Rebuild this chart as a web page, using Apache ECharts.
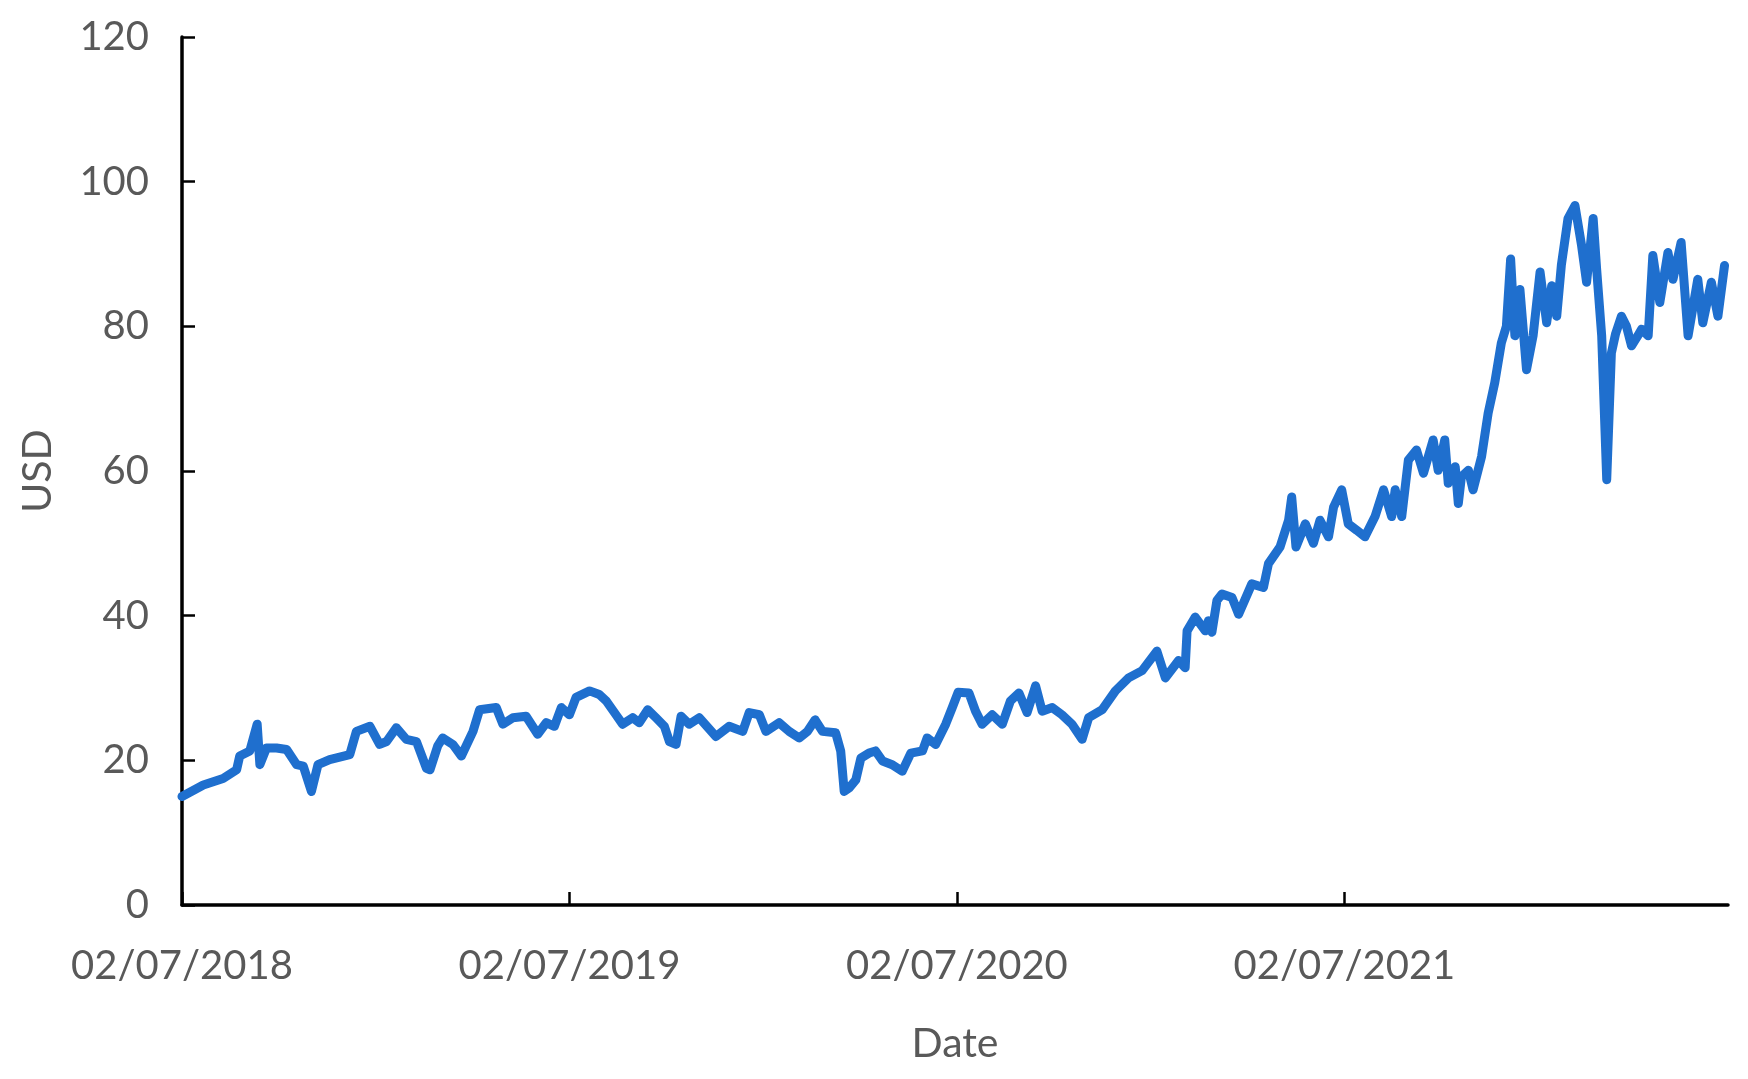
<!DOCTYPE html>
<html><head><meta charset="utf-8">
<script src="https://cdn.jsdelivr.net/npm/echarts@6/dist/echarts.min.js"></script>
<style>html,body{margin:0;padding:0;background:#fff}#c{width:1748px;height:1079px}</style>
</head><body><div id="c"></div>
<script>
// x: years elapsed since 02/07/2018 ; y: price in USD
const yearsSinceStart = [
 0.000,0.055,0.106,0.141,0.149,0.175,0.194,0.201,0.218,0.244,0.270,0.296,0.313,0.334,0.351,0.381,0.433,0.450,0.485,0.510,
 0.528,0.553,0.579,0.605,0.631,0.640,0.660,0.673,0.699,0.721,0.751,0.768,0.811,0.828,0.854,0.888,0.918,0.940,0.961,0.979,
 1.000,1.017,1.052,1.077,1.095,1.120,1.137,1.163,1.180,1.202,1.223,1.245,1.258,1.275,1.288,1.309,1.335,1.378,1.412,1.447,
 1.464,1.490,1.507,1.541,1.567,1.593,1.614,1.634,1.653,1.687,1.700,1.709,1.722,1.739,1.752,1.773,1.790,1.808,1.833,1.859,
 1.881,1.911,1.923,1.945,1.971,1.988,2.003,2.031,2.048,2.065,2.091,2.117,2.138,2.160,2.181,2.203,2.220,2.246,2.271,2.297,
 2.323,2.340,2.375,2.409,2.443,2.478,2.516,2.538,2.572,2.589,2.594,2.615,2.641,2.649,2.658,2.671,2.684,2.710,2.727,2.761,
 2.791,2.804,2.834,2.856,2.864,2.875,2.899,2.920,2.937,2.959,2.972,2.993,3.010,3.032,3.053,3.079,3.101,3.122,3.131,3.148,
 3.165,3.186,3.204,3.229,3.242,3.259,3.268,3.286,3.294,3.302,3.320,3.332,3.354,3.371,3.388,3.405,3.418,3.429,3.440,3.453,
 3.470,3.487,3.505,3.522,3.535,3.548,3.560,3.577,3.595,3.612,3.625,3.642,3.651,3.664,3.677,3.689,3.700,3.715,3.728,3.741,
 3.755,3.767,3.784,3.796,3.814,3.835,3.848,3.869,3.887,3.912,3.925,3.947,3.964,3.981
];
const priceUSD = [
 15.0,16.6,17.5,18.7,20.6,21.3,25.0,19.4,21.7,21.7,21.5,19.4,19.2,15.7,19.4,20.1,20.8,24.0,24.7,22.2,
 22.6,24.5,22.9,22.6,18.9,18.7,22.0,23.1,22.2,20.6,24.0,27.0,27.3,25.0,25.9,26.1,23.6,25.2,24.7,27.3,
 26.3,28.7,29.6,29.1,28.2,26.3,25.0,25.9,25.2,27.0,25.9,24.7,22.6,22.2,26.1,25.0,25.9,23.3,24.7,24.0,
 26.6,26.3,24.0,25.2,24.0,23.1,24.0,25.6,24.0,23.8,21.3,15.7,16.2,17.3,20.3,21.0,21.3,19.9,19.4,18.5,
 21.0,21.3,23.1,22.2,25.0,27.3,29.4,29.3,26.8,25.0,26.3,25.0,28.2,29.3,26.6,30.3,26.8,27.3,26.3,25.0,
 22.9,25.9,27.0,29.6,31.4,32.4,35.1,31.4,33.8,32.8,37.9,39.8,37.9,39.3,37.7,42.1,43.0,42.5,40.2,44.4,
 43.9,47.2,49.5,53.2,56.4,49.5,52.7,50.0,53.2,50.9,55.0,57.4,52.7,51.8,50.9,53.7,57.4,53.7,57.4,53.7,
 61.5,62.9,59.7,64.3,60.1,64.3,58.3,60.6,55.5,59.2,60.1,57.4,62.0,68.0,72.2,77.7,80.0,89.3,78.7,85.1,
 74.0,78.7,87.5,80.5,85.6,81.4,88.5,94.9,96.7,91.2,86.1,94.9,87.9,78.7,58.8,76.3,79.0,81.4,80.0,77.3,
 78.5,79.6,78.7,89.8,83.3,90.2,86.5,91.6,78.7,86.5,80.5,86.1,81.4,88.4
];
const xTickValues = [0, 1, 2, 3];
const xTickLabels = ['02/07/2018', '02/07/2019', '02/07/2020', '02/07/2021'];
const xAxisTitle = 'Date';
const yAxisTitle = 'USD';

const seriesData = yearsSinceStart.map((t, i) => [t, priceUSD[i]]);
const textColor = '#595959';
const fontFamily = 'Lato, "Open Sans", sans-serif';

const chart = echarts.init(document.getElementById('c'), null, {renderer: 'canvas'});
chart.setOption({
  animation: false,
  backgroundColor: '#ffffff',
  grid: {left: 182, right: 20, top: 37, bottom: 174, containLabel: false},
  xAxis: {
    type: 'value', min: 0, max: 3.99, interval: 1,
    name: xAxisTitle, nameLocation: 'middle', nameGap: 118,
    nameTextStyle: {color: textColor, fontSize: 41, fontFamily: fontFamily},
    axisLine: {show: true, onZero: false, lineStyle: {color: '#000', width: 3.5}},
    axisTick: {show: true, inside: true, length: 13, customValues: xTickValues, lineStyle: {color: '#000', width: 2.5}},
    axisLabel: {customValues: xTickValues, margin: 41, color: textColor, fontSize: 40, fontFamily: fontFamily,
      formatter: v => xTickLabels[Math.round(v)] || ''},
    splitLine: {show: false}
  },
  yAxis: {
    type: 'value', min: 0, max: 120, interval: 20,
    name: yAxisTitle, nameLocation: 'middle', nameGap: 124,
    nameTextStyle: {color: textColor, fontSize: 41, fontFamily: fontFamily},
    axisLine: {show: true, lineStyle: {color: '#000', width: 3.5}},
    axisTick: {show: true, inside: true, length: 13, lineStyle: {color: '#000', width: 2.5}},
    axisLabel: {margin: 33, color: textColor, fontSize: 40, fontFamily: fontFamily},
    splitLine: {show: false}
  },
  series: [{
    type: 'line', data: seriesData, showSymbol: false, smooth: false,
    lineStyle: {color: '#1f6fce', width: 9, cap: 'round', join: 'round'},
    z: 1
  }]
});
</script>
</body></html>
